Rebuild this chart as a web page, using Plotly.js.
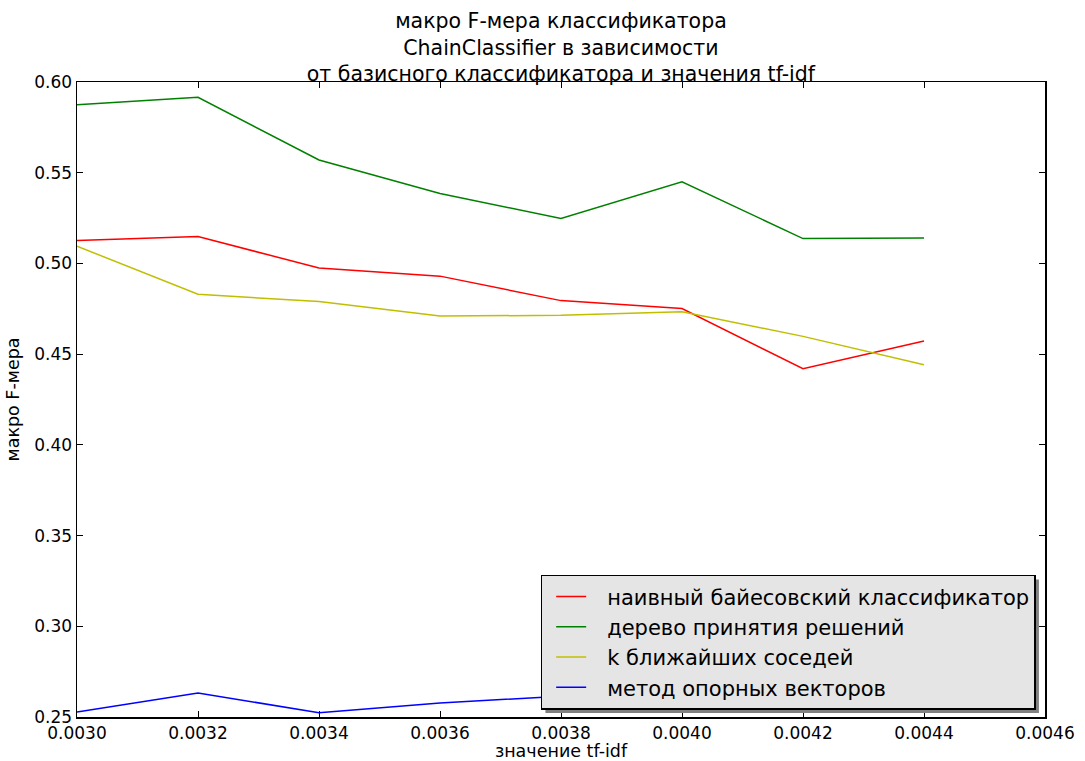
<!DOCTYPE html>
<html>
<head>
<meta charset="utf-8">
<script src="https://cdn.plot.ly/plotly-3.0.1.min.js"></script>
<style>
  html, body { margin: 0; padding: 0; background: #ffffff; }
  #chart { width: 1085px; height: 761px; }
</style>
</head>
<body>
<div id="chart"></div>
<script>
// tf-idf threshold values
const tfidf = [0.0030, 0.0032, 0.0034, 0.0036, 0.0038, 0.0040, 0.0042, 0.0044];

// macro F-measure per base classifier
const naiveBayes   = [0.5126, 0.5148, 0.4975, 0.4930, 0.4795, 0.4751, 0.4420, 0.4573];
const decisionTree = [0.5874, 0.5916, 0.5570, 0.5385, 0.5248, 0.5450, 0.5137, 0.5140];
const kNeighbors   = [0.5095, 0.4830, 0.4790, 0.4710, 0.4714, 0.4733, 0.4598, 0.4441];
const svm          = [0.2528, 0.2632, 0.2524, 0.2577, 0.2615, 0.2585, 0.2555, 0.2570];

const seriesNames = [
  'наивный байесовский классификатор',
  'дерево принятия решений',
  'k ближайших соседей',
  'метод опорных векторов'
];

const FONT = 'DejaVu Sans, sans-serif';

function line(y, name, color) {
  return {
    x: tfidf, y: y, name: name, type: 'scatter', mode: 'lines',
    line: { color: color, width: 1.5 }
  };
}

const traces = [
  line(naiveBayes,   seriesNames[0], '#ff0000'),
  line(decisionTree, seriesNames[1], '#008000'),
  line(kNeighbors,   seriesNames[2], '#bfbf00'),
  line(svm,          seriesNames[3], '#0000ff')
];

const axisCommon = {
  showgrid: false, zeroline: false,
  showline: true, linecolor: '#000000', linewidth: 1.5,
  mirror: 'ticks', ticks: 'inside', ticklen: 6, tickwidth: 1, tickcolor: '#000000',
  tickfont: { family: FONT, size: 17, color: '#000000' }
};

const layout = {
  width: 1085, height: 761,
  paper_bgcolor: '#ffffff', plot_bgcolor: '#ffffff',
  margin: { l: 77, r: 40, t: 82, b: 44 },
  font: { family: FONT, color: '#000000' },
  title: {
    text: 'макро F-мера классификатора<br>ChainClassifier в зависимости<br>от базисного классификатора и значения tf-idf',
    font: { family: FONT, size: 20.5, color: '#000000' },
    x: 0.517, xanchor: 'center', xref: 'container',
    y: 0.963, yanchor: 'top', yref: 'container'
  },
  xaxis: Object.assign({}, axisCommon, {
    range: [0.0030, 0.0046], dtick: 0.0002, tick0: 0.0030, tickformat: '.4f',
    title: { text: 'значение tf-idf', font: { family: FONT, size: 17.5, color: '#000000' }, standoff: 0 }
  }),
  yaxis: Object.assign({}, axisCommon, {
    range: [0.25, 0.60], dtick: 0.05, tick0: 0.25, tickformat: '.2f',
    title: { text: 'макро F-мера', font: { family: FONT, size: 17.5, color: '#000000' }, standoff: 10 }
  }),
  legend: {
    x: 0.479, xanchor: 'left', y: 0.224, yanchor: 'top',
    bgcolor: '#e5e5e5', bordercolor: '#000000', borderwidth: 1.5,
    font: { family: FONT, size: 21, color: '#000000' },
    itemwidth: 55,
    tracegroupgap: 0
  }
};

// short legend sample lines, inset from the box edge
function shortenLegendLines(gd) {
  gd.querySelectorAll('.legend .legendlines path').forEach(function (p) {
    p.setAttribute('d', 'M14,0h30');
  });
}

Plotly.newPlot('chart', traces, layout, { displayModeBar: false, staticPlot: true }).then(function (gd) {
  // drop shadow under the legend box, placed from the rendered legend size
  const bg = gd.querySelector('.legend .bg');
  if (!bg) return gd;
  const r = bg.getBoundingClientRect();
  const root = gd.getBoundingClientRect();
  const fl = gd._fullLayout;
  const off = 4;
  const toX = function (px) { return (px - root.left - fl._size.l) / fl._size.w; };
  const toY = function (py) { return 1 - (py - root.top - fl._size.t) / fl._size.h; };
  return Plotly.relayout(gd, {
    shapes: [{
      type: 'rect', xref: 'paper', yref: 'paper', layer: 'above',
      x0: toX(r.left + off), x1: toX(r.right + off),
      y0: toY(r.bottom + off), y1: toY(r.top + off),
      fillcolor: '#808080', line: { width: 0 }
    }]
  });
}).then(function (gd) {
  shortenLegendLines(gd || document.getElementById('chart'));
});
</script>
</body>
</html>
